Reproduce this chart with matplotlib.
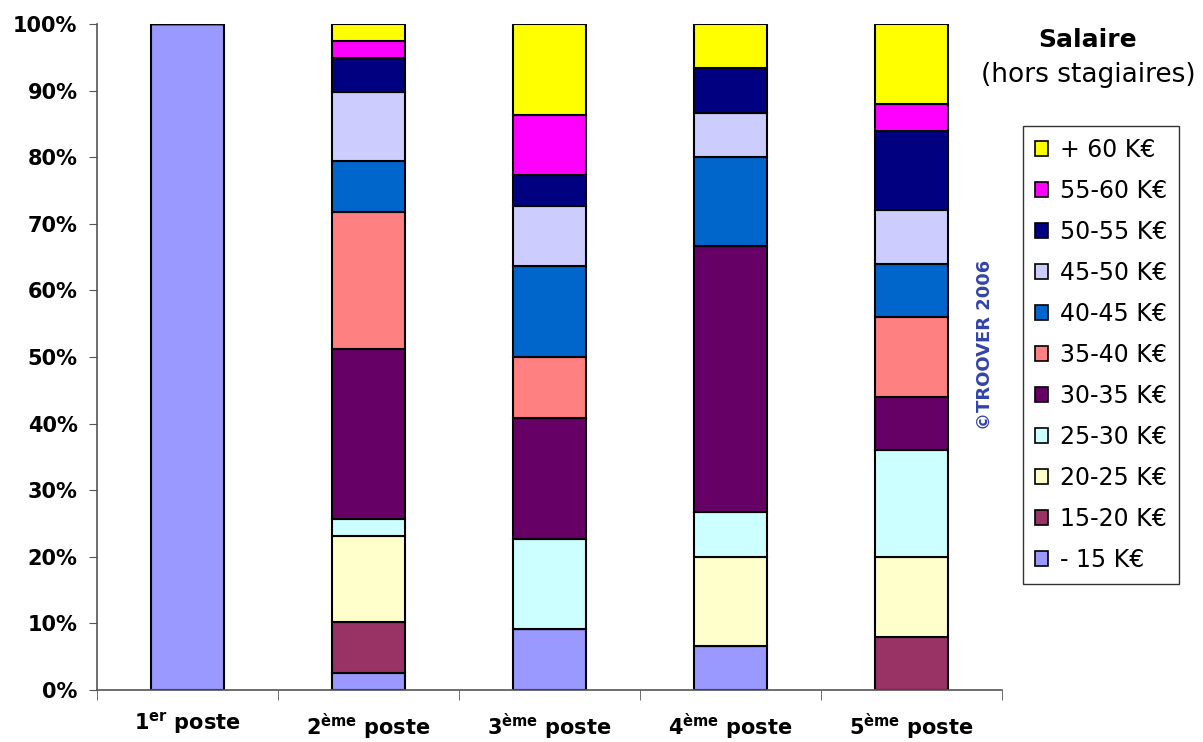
import matplotlib
matplotlib.use("Agg")
import matplotlib.pyplot as plt
from matplotlib.patches import Patch
import numpy as np

categories = [r"1$^{\mathbf{er}}$ poste", r"2$^{\mathbf{ème}}$ poste", r"3$^{\mathbf{ème}}$ poste",
              r"4$^{\mathbf{ème}}$ poste", r"5$^{\mathbf{ème}}$ poste"]
series_names = ["- 15 K€", "15-20 K€", "20-25 K€", "25-30 K€", "30-35 K€", "35-40 K€",
                "40-45 K€", "45-50 K€", "50-55 K€", "55-60 K€", "+ 60 K€"]
colors = ["#9999FF", "#993366", "#FFFFCC", "#CCFFFF", "#660066", "#FF8080",
          "#0066CC", "#CCCCFF", "#000080", "#FF00FF", "#FFFF00"]

# percentages per salary band, one list per band, values for the 5 postes
s_lt15 = [100.0, 2.56, 9.09, 6.67, 0.0]
s_15_20 = [0.0, 7.69, 0.0, 0.0, 8.0]
s_20_25 = [0.0, 12.82, 0.0, 13.33, 12.0]
s_25_30 = [0.0, 2.56, 13.64, 6.67, 16.0]
s_30_35 = [0.0, 25.64, 18.18, 40.0, 8.0]
s_35_40 = [0.0, 20.51, 9.09, 0.0, 12.0]
s_40_45 = [0.0, 7.69, 13.64, 13.33, 8.0]
s_45_50 = [0.0, 10.26, 9.09, 6.67, 8.0]
s_50_55 = [0.0, 5.13, 4.55, 6.67, 12.0]
s_55_60 = [0.0, 2.56, 9.09, 0.0, 4.0]
s_gt60 = [0.0, 2.56, 13.64, 6.67, 12.0]
series = [s_lt15, s_15_20, s_20_25, s_25_30, s_30_35, s_35_40,
          s_40_45, s_45_50, s_50_55, s_55_60, s_gt60]
yticks = [0, 10, 20, 30, 40, 50, 60, 70, 80, 90, 100]
ytick_labels = [f"{v}%" for v in yticks]

plt.rcParams['font.family'] = ['DejaVu Sans']
plt.rcParams['mathtext.fontset'] = 'dejavusans'

fig = plt.figure(figsize=(12.03, 7.42), dpi=100)
ax = fig.add_axes([0.0806, 0.0701, 0.7523, 0.8976])

x = np.arange(len(categories))
bottom = np.zeros(len(categories))
for vals, col, name in zip(series, colors, series_names):
    v = np.array(vals)
    ax.bar(x, v, 0.40, bottom=bottom, color=col, edgecolor="black", linewidth=1.5, label=name)
    bottom += v

ax.set_xlim(-0.5, len(categories) - 0.5)
ax.set_ylim(0, 100)
ax.set_yticks(yticks)
ax.set_yticklabels(ytick_labels, fontsize=15, fontweight="bold")
ax.set_xticks(x)
ax.set_xticklabels(categories, fontsize=15, fontweight="bold")
ax.tick_params(axis="x", length=0, pad=15)
ax.set_xticks(np.arange(-0.5, len(categories)), minor=True)
ax.tick_params(axis="x", which="minor", length=7, direction="out", color="#555555")
ax.tick_params(axis="y", length=6, direction="out", color="#555555", pad=8)
for s in ["top", "right"]:
    ax.spines[s].set_visible(False)
for s in ["left", "bottom"]:
    ax.spines[s].set_color("#555555")
    ax.spines[s].set_linewidth(1.2)

handles = [Patch(facecolor=c, edgecolor="black", linewidth=1.2) for c in colors][::-1]
labels = series_names[::-1]
leg = fig.legend(handles, labels, loc="upper left", bbox_to_anchor=(1023 / 1203, 1 - 126 / 742),
                 fontsize=17, frameon=True, fancybox=False, edgecolor="black",
                 handlelength=0.55, handleheight=0.55, handletextpad=0.5,
                 labelspacing=0.72, borderpad=0.5, borderaxespad=0)
leg.get_frame().set_linewidth(1.0)

fig.text(1088 / 1203, 1 - 40 / 742, "Salaire", ha="center", va="center", fontsize=18, fontweight="bold")
fig.text(1088 / 1203, 1 - 75 / 742, "(hors stagiaires)", ha="center", va="center", fontsize=19)
fig.text(985 / 1203, 1 - 345 / 742, "©TROOVER 2006", rotation=90, ha="center", va="center",
         fontsize=13, fontweight="bold", color="#3344AA")

fig.savefig("out.png", dpi=100)
